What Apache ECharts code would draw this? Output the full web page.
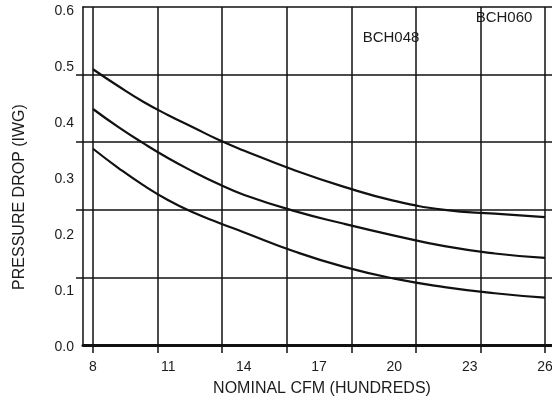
<!DOCTYPE html>
<html>
<head>
<meta charset="utf-8">
<script src="https://cdn.jsdelivr.net/npm/echarts@6/dist/echarts.min.js"></script>
<style>
  html, body { margin: 0; padding: 0; background: #fff; }
  #chart { width: 552px; height: 403px; }
</style>
</head>
<body>
<div id="chart"></div>
<script>
// nominal cfm (hundreds) where the curves were read
const cfm = [8, 9, 10, 11, 12, 13, 14, 16, 18, 20, 22, 24, 26]
// pressure drop (in. wg) for the three curves, top to bottom
const upperCurve = [0.496, 0.466, 0.438, 0.414, 0.392, 0.370, 0.351, 0.316, 0.286, 0.261, 0.245, 0.238, 0.232]
const middleCurve = [0.425, 0.393, 0.364, 0.337, 0.313, 0.291, 0.272, 0.243, 0.220, 0.199, 0.180, 0.167, 0.159]
const lowerCurve = [0.354, 0.320, 0.289, 0.262, 0.240, 0.222, 0.205, 0.171, 0.143, 0.122, 0.107, 0.096, 0.088]
const curveNames = ['BCH060', 'BCH048', 'BCH036']
const xTicks = { min: 8, max: 26, step: 3 }
const yTicks = { min: 0, max: 0.6, step: 0.1 }
const notes = [
  { text: 'BCH048', x: 391, y: 38 },
  { text: 'BCH060', x: 504, y: 18 },
]

const font = '"Liberation Sans", Arial, sans-serif'
const ink = '#111'
const textColor = '#1c1c1c'

const hidden = { show: false }
const noAxis = {
  axisLine: hidden, axisTick: hidden, axisLabel: hidden, splitLine: hidden,
}

const chart = echarts.init(document.getElementById('chart'), null, { renderer: 'canvas' })

const option = {
  animation: false,
  backgroundColor: '#fff',
  grid: [
    // frame: left border, top and thick bottom line
    { left: 83, right: -20, top: 7, bottom: 58, outerBoundsMode: 'none' },
    // horizontal rules, they stick out a little on the left
    { left: 76, right: -20, top: 7, bottom: 58, outerBoundsMode: 'none' },
    // data + tick labels
    { left: 93, width: 452, top: 11, bottom: 56, outerBoundsMode: 'none' },
    // vertical rules
    { left: 93, width: 452, top: 7, bottom: 58, outerBoundsMode: 'none' },
  ],
  xAxis: [
    {
      gridIndex: 0, type: 'value', min: 0, max: 1, position: 'bottom',
      ...noAxis,
      axisLine: { show: true, lineStyle: { color: ink, width: 3 } },
    },
    {
      gridIndex: 0, type: 'value', min: 0, max: 1, position: 'top',
      ...noAxis,
      axisLine: { show: true, lineStyle: { color: ink, width: 1.5 } },
    },
    { gridIndex: 1, type: 'value', min: 0, max: 1, ...noAxis },
    {
      gridIndex: 2, type: 'value', min: xTicks.min, max: xTicks.max, interval: xTicks.step,
      ...noAxis,
      axisLabel: {
        show: true, margin: 13, color: textColor, fontSize: 14, fontFamily: font,
        showMinLabel: true, showMaxLabel: true,
      },
    },
    {
      gridIndex: 3, type: 'value', min: 0, max: 7, interval: 1,
      ...noAxis,
      axisTick: { show: true, inside: false, length: 8, lineStyle: { color: ink, width: 1.5 } },
      splitLine: { show: true, lineStyle: { color: ink, width: 1.5 } },
    },
  ],
  yAxis: [
    {
      gridIndex: 0, type: 'value', min: 0, max: 1, position: 'left',
      ...noAxis,
      axisLine: { show: true, lineStyle: { color: ink, width: 1.5 } },
    },
    {
      gridIndex: 1, type: 'value', min: 0, max: 5, interval: 1,
      ...noAxis,
      splitLine: {
        show: true, showMinLine: false, showMaxLine: false,
        lineStyle: { color: ink, width: 1.5 },
      },
    },
    {
      gridIndex: 2, type: 'value', min: yTicks.min, max: yTicks.max, interval: yTicks.step,
      ...noAxis,
      axisLabel: {
        show: true, margin: 19, color: textColor, fontSize: 14, fontFamily: font,
        formatter: v => v.toFixed(1),
      },
    },
    { gridIndex: 3, type: 'value', min: 0, max: 1, ...noAxis },
  ],
  graphic: [
    {
      type: 'text', x: 322, y: 389,
      style: { text: 'NOMINAL CFM (HUNDREDS)', font: '16px ' + font, fill: textColor, align: 'center', verticalAlign: 'middle' },
    },
    {
      type: 'text', x: 20, y: 197, rotation: Math.PI / 2,
      style: { text: 'PRESSURE DROP (IWG)', font: '16px ' + font, fill: textColor, align: 'center', verticalAlign: 'middle' },
    },
    ...notes.map(n => ({
      type: 'text', x: n.x, y: n.y,
      style: { text: n.text, font: '15px ' + font, fill: textColor, align: 'center', verticalAlign: 'middle' },
    })),
  ],
  series: [upperCurve, middleCurve, lowerCurve].map((values, i) => ({
    name: curveNames[i],
    type: 'line',
    xAxisIndex: 3,
    yAxisIndex: 2,
    smooth: true,
    showSymbol: false,
    symbol: 'none',
    lineStyle: { color: ink, width: 2.2 },
    data: cfm.map((x, k) => [x, values[k]]),
  })),
}

chart.setOption(option)
</script>
</body>
</html>
